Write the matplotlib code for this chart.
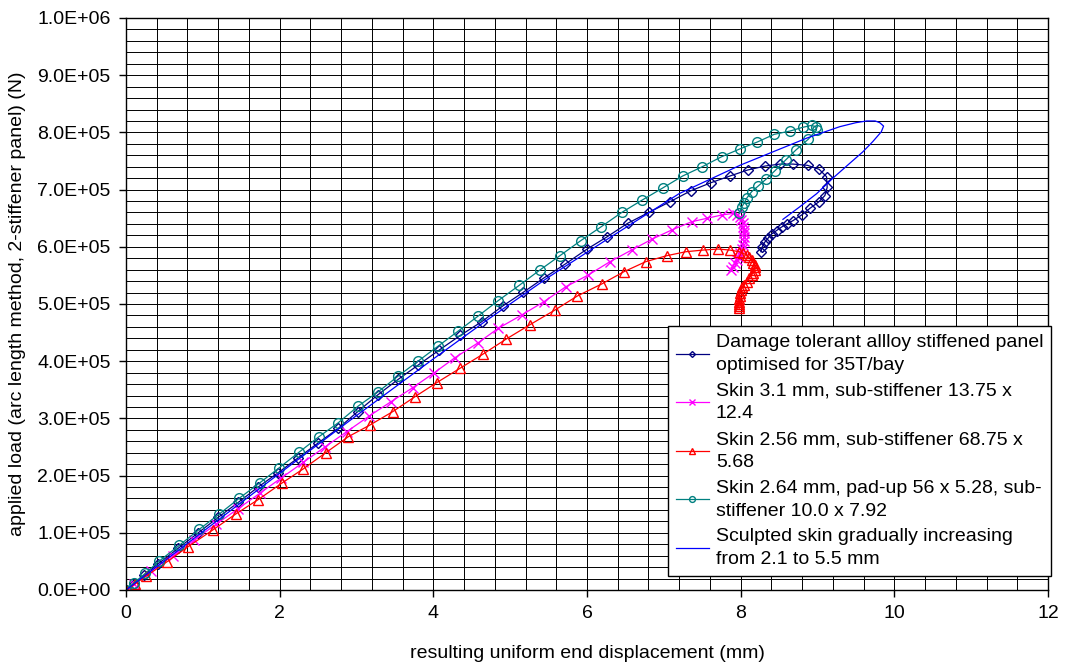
import matplotlib
matplotlib.use('Agg')
import matplotlib.pyplot as plt
from matplotlib.ticker import MultipleLocator, FuncFormatter

plt.rcParams['font.family'] = ['Liberation Sans', 'DejaVu Sans']

# --- data (displacement mm, load N) ---
navy_x = [0, 0.10, 0.24, 0.42, 0.68, 0.94, 1.20, 1.46, 1.72, 1.98, 2.24, 2.50, 2.763,
          3.015, 3.275, 3.543, 3.803, 4.077, 4.35, 4.629, 4.902, 5.17, 5.443, 5.716,
          5.995, 6.263, 6.528, 6.805, 7.079, 7.352, 7.612, 7.859, 8.09, 8.318, 8.51,
          8.683, 8.87, 9.022, 9.118, 9.126, 9.096, 9.018, 8.901, 8.793, 8.683, 8.597,
          8.532, 8.467, 8.402, 8.358, 8.315, 8.282, 8.263]
navy_y = [0, 1.1e4, 2.6e4, 4.6e4, 7.3e4, 1.0e5, 1.27e5, 1.53e5, 1.80e5, 2.05e5, 2.31e5,
          2.57e5, 2.826e5, 3.117e5, 3.409e5, 3.683e5, 3.933e5, 4.195e5, 4.45e5, 4.69e5,
          4.964e5, 5.204e5, 5.459e5, 5.698e5, 5.955e5, 6.176e5, 6.41e5, 6.602e5, 6.787e5,
          6.98e5, 7.12e5, 7.237e5, 7.342e5, 7.412e5, 7.446e5, 7.446e5, 7.424e5, 7.354e5,
          7.225e5, 7.039e5, 6.896e5, 6.787e5, 6.672e5, 6.555e5, 6.459e5, 6.398e5,
          6.345e5, 6.284e5, 6.223e5, 6.153e5, 6.083e5, 6.004e5, 5.914e5]

mag_x = [0, 0.10, 0.325, 0.608, 0.891, 1.174, 1.457, 1.74, 2.023, 2.306, 2.589, 2.872,
         3.166, 3.448, 3.731, 4.012, 4.281, 4.584, 4.845, 5.149, 5.439, 5.725, 6.016,
         6.298, 6.58, 6.841, 7.101, 7.361, 7.556, 7.751, 7.902, 7.95, 7.989, 8.01,
         8.024, 8.035, 8.042, 8.045, 8.045, 8.04, 8.032, 8.015, 7.989, 7.97, 7.946,
         7.92, 7.894, 7.868]
mag_y = [0, 1.0e4, 3.3e4, 6.0e4, 8.8e4, 1.15e5, 1.42e5, 1.69e5, 1.96e5, 2.23e5, 2.50e5,
         2.767e5, 3.042e5, 3.291e5, 3.536e5, 3.798e5, 4.061e5, 4.323e5, 4.575e5,
         4.807e5, 5.04e5, 5.302e5, 5.506e5, 5.739e5, 5.943e5, 6.13e5, 6.293e5, 6.438e5,
         6.497e5, 6.555e5, 6.585e5, 6.56e5, 6.525e5, 6.47e5, 6.41e5, 6.35e5, 6.293e5,
         6.235e5, 6.176e5, 6.10e5, 6.031e5, 5.96e5, 5.886e5, 5.83e5, 5.768e5, 5.71e5,
         5.651e5, 5.594e5]

red_x = [0, 0.12, 0.26, 0.53, 0.81, 1.13, 1.43, 1.72, 2.03, 2.31, 2.60, 2.893, 3.175,
         3.47, 3.761, 4.043, 4.346, 4.642, 4.94, 5.26, 5.582, 5.873, 6.19, 6.48, 6.763,
         7.036, 7.287, 7.512, 7.707, 7.859, 7.98, 8.03, 8.077, 8.11, 8.142, 8.165,
         8.185, 8.19, 8.185, 8.165, 8.142, 8.11, 8.077, 8.045, 8.02, 8.0, 7.99, 7.985,
         7.98, 7.98, 7.98, 7.98, 7.98]
red_y = [0, 1.1e4, 2.4e4, 4.9e4, 7.6e4, 1.05e5, 1.33e5, 1.58e5, 1.87e5, 2.12e5, 2.40e5,
         2.68e5, 2.884e5, 3.117e5, 3.379e5, 3.624e5, 3.875e5, 4.12e5, 4.38e5, 4.64e5,
         4.894e5, 5.139e5, 5.349e5, 5.564e5, 5.739e5, 5.844e5, 5.914e5, 5.943e5,
         5.961e5, 5.943e5, 5.914e5, 5.89e5, 5.856e5, 5.815e5, 5.768e5, 5.725e5,
         5.681e5, 5.64e5, 5.594e5, 5.55e5, 5.506e5, 5.45e5, 5.389e5, 5.33e5, 5.29e5,
         5.24e5, 5.19e5, 5.14e5, 5.09e5, 5.04e5, 5.0e5, 4.96e5, 4.924e5]

teal_x = [0, 0.11, 0.25, 0.433, 0.694, 0.954, 1.214, 1.473, 1.744, 1.995, 2.255, 2.511,
          2.763, 3.023, 3.283, 3.543, 3.803, 4.064, 4.324, 4.584, 4.84, 5.118, 5.387,
          5.647, 5.917, 6.185, 6.454, 6.718, 6.984, 7.244, 7.499, 7.751, 7.994, 8.215,
          8.436, 8.64, 8.805, 8.922, 8.978, 8.987, 8.878, 8.718, 8.584, 8.445, 8.328,
          8.228, 8.142, 8.077, 8.042, 8.012, 7.98]
teal_y = [0, 1.3e4, 2.9e4, 5.07e4, 7.81e4, 1.061e5, 1.328e5, 1.603e5, 1.876e5, 2.138e5,
          2.412e5, 2.68e5, 2.924e5, 3.216e5, 3.466e5, 3.741e5, 4.003e5, 4.265e5,
          4.527e5, 4.79e5, 5.055e5, 5.326e5, 5.594e5, 5.844e5, 6.106e5, 6.351e5,
          6.602e5, 6.817e5, 7.027e5, 7.237e5, 7.399e5, 7.574e5, 7.714e5, 7.831e5,
          7.966e5, 8.023e5, 8.088e5, 8.123e5, 8.098e5, 8.04e5, 7.878e5, 7.691e5,
          7.516e5, 7.329e5, 7.179e5, 7.062e5, 6.962e5, 6.847e5, 6.759e5, 6.69e5, 6.585e5]

blue_x = [0, 1.0, 2.0, 3.0, 4.0, 4.7, 5.5, 6.25, 7.2, 8.0, 8.42, 8.86, 9.29, 9.5, 9.64,
          9.75, 9.81, 9.86, 9.83, 9.72, 9.59, 9.42, 9.2, 8.99, 8.77, 8.55]
blue_y = [0, 1.02e5, 2.04e5, 3.05e5, 4.04e5, 4.72e5, 5.47e5, 6.12e5, 6.93e5, 7.43e5,
          7.66e5, 7.9e5, 8.1e5, 8.17e5, 8.2e5, 8.2e5, 8.17e5, 8.11e5, 8.01e5, 7.84e5,
          7.66e5, 7.46e5, 7.2e5, 6.93e5, 6.70e5, 6.48e5]

labels = ['Damage tolerant allloy stiffened panel\noptimised for 35T/bay',
          'Skin 3.1 mm, sub-stiffener 13.75 x\n12.4',
          'Skin 2.56 mm, sub-stiffener 68.75 x\n5.68',
          'Skin 2.64 mm, pad-up 56 x 5.28, sub-\nstiffener 10.0 x 7.92',
          'Sculpted skin gradually increasing\nfrom 2.1 to 5.5 mm']

fig = plt.figure(figsize=(10.65, 6.62), dpi=100)
ax = fig.add_axes([126 / 1065, 1 - 590 / 662, 922 / 1065, 572 / 662])

ax.plot(navy_x, navy_y, color='#000080', lw=0.9, marker='D', ms=5, mfc='none',
        mew=1.0, label=labels[0])
ax.plot(mag_x, mag_y, color='#FF00FF', lw=0.9, marker='x', ms=7, mew=1.0, label=labels[1])
ax.plot(red_x, red_y, color='#FF0000', lw=0.9, marker='^', ms=7, mfc='none',
        mew=1.0, label=labels[2])
ax.plot(teal_x, teal_y, color='#008080', lw=0.9, marker='o', ms=7, mfc='none',
        mew=1.0, label=labels[3])
ax.plot(blue_x, blue_y, color='#0000FF', lw=0.9, label=labels[4])

ax.set_xlim(0, 12)
ax.set_ylim(0, 1e6)
ax.xaxis.set_major_locator(MultipleLocator(2))
ax.xaxis.set_minor_locator(MultipleLocator(0.4))
ax.yaxis.set_major_locator(MultipleLocator(1e5))
ax.yaxis.set_minor_locator(MultipleLocator(2e4))
ax.yaxis.set_major_formatter(FuncFormatter(lambda v, p: '%.1E' % v))
ax.grid(True, which='both', color='black', lw=0.7)
ax.set_axisbelow(True)
ax.tick_params(which='major', direction='out', length=5, width=1, labelsize=14, pad=6)
ax.tick_params(which='minor', length=0)
for s in ax.spines.values():
    s.set_color('black')
    s.set_linewidth(1)

ax.set_xlabel('resulting uniform end displacement (mm)', fontsize=14, labelpad=16)
ax.set_ylabel('applied load (arc length method, 2-stiffener panel) (N)', fontsize=14,
              labelpad=8)

leg = ax.legend(loc='lower left', bbox_to_anchor=(0.588, 0.0245), borderaxespad=0,
                fontsize=14, fancybox=False, framealpha=1, edgecolor='black',
                handlelength=1.7, handletextpad=0.35, labelspacing=0.45,
                markerscale=0.6, borderpad=0.4)
leg.get_frame().set_linewidth(1)
for t in leg.get_texts():
    t.set_linespacing(1.45)

fig.savefig('out.png', dpi=100)
